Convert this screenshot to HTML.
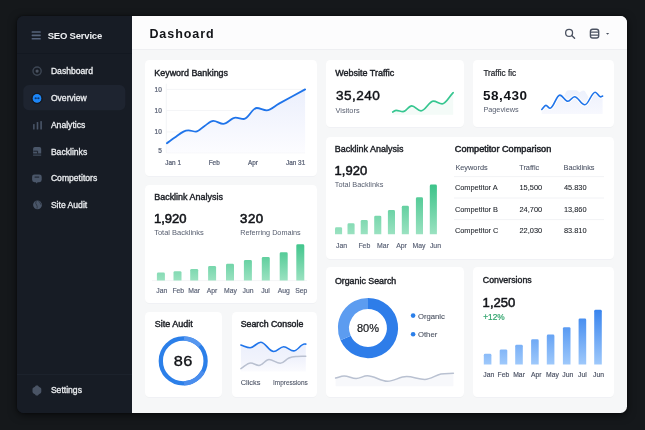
<!DOCTYPE html>
<html><head><meta charset="utf-8"><title>SEO Service Dashboard</title>
<style>
html,body{margin:0;padding:0;width:645px;height:430px;overflow:hidden;background:#15181b;}
.win{position:absolute;left:16.8px;top:16.4px;width:610.2px;height:396.8px;border-radius:6.5px;overflow:hidden;background:#171c25;box-shadow:0 2px 8px rgba(0,0,0,0.6),0 0 2px rgba(0,0,0,0.5);}
.main{position:absolute;left:115.2px;top:0;right:0;bottom:0;background:#f6f7f8;}
.side{position:absolute;left:0;top:0;width:115.2px;height:100%;background:#171c25;}
.sdiv{position:absolute;left:0;width:115px;height:1px;background:#131821;}
.head{position:absolute;left:115.2px;top:0;width:495px;height:32.4px;background:#fcfcfd;border-bottom:1px solid #eeeff2;}
svg{position:absolute;left:0;top:0;font-family:"Liberation Sans", Arial, sans-serif;will-change:transform;}
</style></head><body>
<div class="win"><div class="side"><div class="sdiv" style="top:36.4px"></div><div class="sdiv" style="top:357.9px;background:#1c222c"></div></div><div class="main"></div><div class="head"></div></div>
<svg width="645" height="430" viewBox="0 0 645 430">
<defs>
<filter id="sh" x="-10%" y="-10%" width="120%" height="120%"><feDropShadow dx="0" dy="0.5" stdDeviation="0.6" flood-color="#1f2a44" flood-opacity="0.045"/></filter>
<linearGradient id="gk" gradientUnits="userSpaceOnUse" x1="0" y1="89" x2="0" y2="153"><stop offset="0" stop-color="#ebeffc"/><stop offset="1" stop-color="#fcfcff"/></linearGradient>
<linearGradient id="gs" x1="0" y1="0" x2="0" y2="1"><stop offset="0" stop-color="#ebeffc"/><stop offset="0.6" stop-color="#f1f3fc"/><stop offset="1" stop-color="#fbfbfe"/></linearGradient>
<linearGradient id="gg1" gradientUnits="userSpaceOnUse" x1="0" y1="184" x2="0" y2="234.5"><stop offset="0" stop-color="#3cc389"/><stop offset="1" stop-color="#9be2c1"/></linearGradient>
<linearGradient id="gg2" gradientUnits="userSpaceOnUse" x1="0" y1="244" x2="0" y2="280.8"><stop offset="0" stop-color="#41c58c"/><stop offset="1" stop-color="#9be2c1"/></linearGradient>
<linearGradient id="gt" gradientUnits="userSpaceOnUse" x1="0" y1="90" x2="0" y2="114"><stop offset="0" stop-color="#edf1fc"/><stop offset="1" stop-color="#f7f8fe"/></linearGradient>
<linearGradient id="gb1" gradientUnits="userSpaceOnUse" x1="0" y1="309.5" x2="0" y2="364.8"><stop offset="0" stop-color="#3884ee"/><stop offset="1" stop-color="#9fc9fb"/></linearGradient>
</defs>
<rect x="31.6" y="31.2" width="9.2" height="1.6" rx="0.6" fill="#56637a"/>
<rect x="31.6" y="34.6" width="9.2" height="1.6" rx="0.6" fill="#56637a"/>
<rect x="31.6" y="38.0" width="9.2" height="1.6" rx="0.6" fill="#56637a"/>
<text x="47.7" y="39.4" font-size="9.5" font-weight="700" fill="#eef0f3" letter-spacing="-0.2">SEO Service</text>
<rect x="23.3" y="85.1" width="102" height="25.1" rx="5.5" fill="#1e2430"/>
<text x="50.9" y="74.0" font-size="8.6" fill="#eceef1" stroke="#eceef1" stroke-width="0.3">Dashboard</text>
<text x="50.9" y="101.3" font-size="8.6" fill="#eceef1" stroke="#eceef1" stroke-width="0.3">Overview</text>
<text x="50.9" y="127.89999999999999" font-size="8.6" fill="#eceef1" stroke="#eceef1" stroke-width="0.3">Analytics</text>
<text x="50.9" y="154.5" font-size="8.6" fill="#eceef1" stroke="#eceef1" stroke-width="0.3">Backlinks</text>
<text x="50.9" y="181.29999999999998" font-size="8.6" fill="#eceef1" stroke="#eceef1" stroke-width="0.3">Competitors</text>
<text x="50.9" y="208.1" font-size="8.6" fill="#eceef1" stroke="#eceef1" stroke-width="0.3">Site Audit</text>
<text x="50.9" y="392.7" font-size="8.6" fill="#eceef1" stroke="#eceef1" stroke-width="0.3">Settings</text>
<circle cx="37.1" cy="71.1" r="4.1" fill="none" stroke="#3d4654" stroke-width="1.4"/>
<circle cx="37.1" cy="71.1" r="1.6" fill="#4d5563"/>
<circle cx="37.0" cy="98.4" r="4.4" fill="#1c86f8"/>
<circle cx="37.0" cy="98.4" r="5.2" fill="none" stroke="#10151d" stroke-width="0.9"/>
<ellipse cx="35.7" cy="98.3" rx="1.15" ry="0.95" fill="#0d3873"/>
<ellipse cx="38.4" cy="98.3" rx="1.15" ry="0.95" fill="#0d3873"/>
<rect x="33.1" y="124.0" width="1.5" height="5.5" rx="0.6" fill="#4a5669"/>
<rect x="36.7" y="121.9" width="1.6" height="7.6" rx="0.6" fill="#4a5669"/>
<rect x="40.3" y="121.1" width="1.6" height="8.4" rx="0.6" fill="#4a5669"/>
<path d="M33.1,153.4 V148.8 Q33.1,147.1 34.8,147.1 H39.5 Q41.2,147.1 41.2,148.8 V153.4 Z" fill="#4a5669"/>
<path d="M33.4,151.2 H37.6 V153.6" fill="none" stroke="#171c25" stroke-width="0.9"/>
<rect x="33.1" y="154.6" width="8.1" height="1.0" rx="0" fill="#4a5669"/>
<path d="M34.4,174.4 H39.4 Q41.7,174.4 41.7,176.8 V179.8 Q41.7,182.2 39.4,182.2 H37.6 L36.7,183.6 L35.8,182.2 H34.4 Q32.1,182.2 32.1,179.8 V176.8 Q32.1,174.4 34.4,174.4 Z" fill="#4a5669"/>
<rect x="34.6" y="176.6" width="4.6" height="1.0" rx="0" fill="#1a202b"/>
<circle cx="37.5" cy="204.8" r="4.4" fill="#4a5669"/>
<path d="M36.2,201.0 Q35.0,203.5 36.6,205.0 Q37.6,206.0 37.0,208.6 M38.6,201.0 Q40.6,203.0 41.0,204.8" fill="none" stroke="#2b3340" stroke-width="0.9"/>
<path d="M35.9,385.6 H37.9 L38.9,386.7 L40.6,387.8 Q41.3,388.3 41.3,389.2 V391.8 Q41.3,392.7 40.6,393.2 L38.9,394.2 L37.9,395.5 H35.9 L34.9,394.2 L33.2,393.2 Q32.5,392.7 32.5,391.8 V389.2 Q32.5,388.3 33.2,387.8 L34.9,386.7 Z" fill="#4a5465"/>
<text x="149.4" y="37.9" font-size="12.5" font-weight="700" fill="#121418" letter-spacing="0.95">Dashoard</text>
<circle cx="569.1" cy="32.9" r="3.45" fill="none" stroke="#4b5261" stroke-width="1.3"/>
<path d="M571.7,35.5 L574.6,38.2" stroke="#4b5261" stroke-width="1.4" stroke-linecap="round"/>
<rect x="590.4" y="29.2" width="8.3" height="8.8" rx="2.3" fill="none" stroke="#4b5261" stroke-width="1.35"/>
<path d="M590.6,32.2 H598.5 M590.6,35.1 H598.5" stroke="#4b5261" stroke-width="1.2"/>
<path d="M606.0,32.9 H609.2 L607.6,34.7 Z" fill="#4b5261"/>
<rect x="145" y="60" width="172" height="116" rx="4.5" fill="#ffffff" filter="url(#sh)"/>
<rect x="326" y="60" width="138" height="67" rx="4.5" fill="#ffffff" filter="url(#sh)"/>
<rect x="473" y="60" width="141" height="67" rx="4.5" fill="#ffffff" filter="url(#sh)"/>
<rect x="145" y="185" width="172" height="118" rx="4.5" fill="#ffffff" filter="url(#sh)"/>
<rect x="326" y="137" width="288" height="122" rx="4.5" fill="#ffffff" filter="url(#sh)"/>
<rect x="145" y="312" width="77" height="85" rx="4.5" fill="#ffffff" filter="url(#sh)"/>
<rect x="232" y="312" width="85" height="85" rx="4.5" fill="#ffffff" filter="url(#sh)"/>
<rect x="326" y="267" width="138" height="130" rx="4.5" fill="#ffffff" filter="url(#sh)"/>
<rect x="473" y="267" width="141" height="130" rx="4.5" fill="#ffffff" filter="url(#sh)"/>
<text transform="translate(154.3,75.6) scale(1.088,1)" x="0" y="0" font-size="8.2" fill="#1b1e24" stroke="#1b1e24" stroke-width="0.38">Keyword Bankings</text>
<line x1="166.5" y1="89.4" x2="305" y2="89.4" stroke="#f1f2f5" stroke-width="0.8"/>
<line x1="166.5" y1="110.5" x2="305" y2="110.5" stroke="#f1f2f5" stroke-width="0.8"/>
<line x1="166.5" y1="131.9" x2="305" y2="131.9" stroke="#f1f2f5" stroke-width="0.8"/>
<line x1="166.5" y1="152.7" x2="305" y2="152.7" stroke="#eceef2" stroke-width="0.9"/>
<line x1="166.3" y1="83.7" x2="166.3" y2="152.7" stroke="#f0f1f4" stroke-width="0.8"/>
<text x="161.8" y="91.7" font-size="6.5" fill="#596175" text-anchor="end" stroke="#596175" stroke-width="0.22">10</text>
<text x="161.8" y="112.8" font-size="6.5" fill="#596175" text-anchor="end" stroke="#596175" stroke-width="0.22">10</text>
<text x="161.8" y="134.2" font-size="6.5" fill="#596175" text-anchor="end" stroke="#596175" stroke-width="0.22">10</text>
<text x="161.8" y="153.0" font-size="6.5" fill="#596175" text-anchor="end" stroke="#596175" stroke-width="0.22">5</text>
<text x="165.3" y="164.6" font-size="6.4" fill="#596175" stroke="#596175" stroke-width="0.22">Jan 1</text>
<text x="208.7" y="164.6" font-size="6.4" fill="#596175" stroke="#596175" stroke-width="0.22">Feb</text>
<text x="248.0" y="164.6" font-size="6.4" fill="#596175" stroke="#596175" stroke-width="0.22">Apr</text>
<text x="286.0" y="164.6" font-size="6.4" fill="#596175" stroke="#596175" stroke-width="0.22">Jan 31</text>
<path d="M166.90,143.30 C169.74,141.25 171.96,139.60 174.80,137.60 C177.93,135.39 180.37,133.25 183.50,131.60 C185.30,130.65 186.70,130.40 188.50,130.40 C191.16,130.40 193.24,131.60 195.90,131.60 C199.03,131.60 201.47,127.83 204.60,125.90 C207.73,123.97 210.17,120.90 213.30,120.90 C216.86,120.90 219.64,123.90 223.20,123.90 C227.66,123.90 231.14,117.70 235.60,117.70 C238.55,117.70 240.85,119.00 243.80,119.00 C248.44,119.00 252.06,108.00 256.70,108.00 C260.26,108.00 263.04,110.30 266.60,110.30 C271.06,110.30 274.54,106.02 279.00,103.60 C288.40,98.50 295.70,94.51 305.10,89.40 L305.1,152.7 L166.9,152.7 Z" fill="url(#gk)"/>
<path d="M166.90,143.30 C169.74,141.25 171.96,139.60 174.80,137.60 C177.93,135.39 180.37,133.25 183.50,131.60 C185.30,130.65 186.70,130.40 188.50,130.40 C191.16,130.40 193.24,131.60 195.90,131.60 C199.03,131.60 201.47,127.83 204.60,125.90 C207.73,123.97 210.17,120.90 213.30,120.90 C216.86,120.90 219.64,123.90 223.20,123.90 C227.66,123.90 231.14,117.70 235.60,117.70 C238.55,117.70 240.85,119.00 243.80,119.00 C248.44,119.00 252.06,108.00 256.70,108.00 C260.26,108.00 263.04,110.30 266.60,110.30 C271.06,110.30 274.54,106.02 279.00,103.60 C288.40,98.50 295.70,94.51 305.10,89.40" fill="none" stroke="#1f74ea" stroke-width="1.8" stroke-linecap="round"/>
<text transform="translate(335.2,75.6) scale(1.0975,1)" x="0" y="0" font-size="8.2" fill="#1b1e24" stroke="#1b1e24" stroke-width="0.38">Website Traffic</text>
<text x="335.9" y="99.9" font-size="13.6" fill="#111318" letter-spacing="0.45" stroke="#111318" stroke-width="0.45">35,240</text>
<text x="335.5" y="112.7" font-size="7.4" fill="#575e6f">Visitors</text>
<path d="M392.70,112.00 C393.96,111.42 394.94,110.40 396.20,110.40 C398.65,110.40 400.55,111.70 403.00,111.70 C406.13,111.70 408.57,105.80 411.70,105.80 C415.05,105.80 417.65,110.80 421.00,110.80 C425.46,110.80 428.94,101.10 433.40,101.10 C436.53,101.10 438.97,103.90 442.10,103.90 C446.10,103.90 449.20,96.30 453.20,92.70 L453.2,114.8 L392.7,114.8 Z" fill="#f4fbf8"/>
<path d="M392.70,112.00 C393.96,111.42 394.94,110.40 396.20,110.40 C398.65,110.40 400.55,111.70 403.00,111.70 C406.13,111.70 408.57,105.80 411.70,105.80 C415.05,105.80 417.65,110.80 421.00,110.80 C425.46,110.80 428.94,101.10 433.40,101.10 C436.53,101.10 438.97,103.90 442.10,103.90 C446.10,103.90 449.20,96.30 453.20,92.70" fill="none" stroke="#36c690" stroke-width="1.7" stroke-linecap="round"/>
<text x="483.4" y="75.6" font-size="8.2" fill="#1b1e24" stroke="#1b1e24" stroke-width="0.2">Traffic fic</text>
<text x="483.0" y="99.8" font-size="13.5" font-weight="700" fill="#111318" letter-spacing="0.55">58,430</text>
<text x="483.4" y="112.3" font-size="7.3" fill="#575e6f">Pageviews</text>
<path d="M563.5,114 L563.5,97 L566.3,91.6 Q567.3,90.3 569,90.3 L576.3,90.3 Q577.8,90.4 579.4,92.6 L581.8,91.0 Q583.3,90.1 584.8,91.1 L586.6,94 L590.5,100 L590.5,114 Z" fill="url(#gt)"/>
<path d="M541.80,109.50 C543.28,108.02 544.42,105.40 545.90,105.40 C547.41,105.40 548.59,108.30 550.10,108.30 C553.59,108.30 556.31,95.10 559.80,95.10 C562.72,95.10 564.98,101.30 567.90,101.30 C570.28,101.30 572.12,96.70 574.50,96.70 C578.21,96.70 581.09,104.80 584.80,104.80 C588.54,104.80 591.46,92.20 595.20,92.20 C597.14,92.20 598.66,96.90 600.60,96.90 C601.32,96.90 601.88,96.32 602.60,96.00 L602.6,114 L541.8,114 Z" fill="url(#gt)"/>
<path d="M541.80,109.50 C543.28,108.02 544.42,105.40 545.90,105.40 C547.41,105.40 548.59,108.30 550.10,108.30 C553.59,108.30 556.31,95.10 559.80,95.10 C562.72,95.10 564.98,101.30 567.90,101.30 C570.28,101.30 572.12,96.70 574.50,96.70 C578.21,96.70 581.09,104.80 584.80,104.80 C588.54,104.80 591.46,92.20 595.20,92.20 C597.14,92.20 598.66,96.90 600.60,96.90 C601.32,96.90 601.88,96.32 602.60,96.00" fill="none" stroke="#ffffff" stroke-width="3.6" stroke-linecap="round"/>
<path d="M541.80,109.50 C543.28,108.02 544.42,105.40 545.90,105.40 C547.41,105.40 548.59,108.30 550.10,108.30 C553.59,108.30 556.31,95.10 559.80,95.10 C562.72,95.10 564.98,101.30 567.90,101.30 C570.28,101.30 572.12,96.70 574.50,96.70 C578.21,96.70 581.09,104.80 584.80,104.80 C588.54,104.80 591.46,92.20 595.20,92.20 C597.14,92.20 598.66,96.90 600.60,96.90 C601.32,96.90 601.88,96.32 602.60,96.00" fill="none" stroke="#1f74ea" stroke-width="1.6" stroke-linecap="round"/>
<text transform="translate(334.7,152.3) scale(1.095,1)" x="0" y="0" font-size="8.2" fill="#1b1e24" stroke="#1b1e24" stroke-width="0.38">Backlink Analysis</text>
<text x="334.6" y="174.6" font-size="13.0" fill="#111318" stroke="#111318" stroke-width="0.5">1,920</text>
<text x="334.8" y="187.2" font-size="7.35" fill="#575e6f">Total Backlinks</text>
<path d="M335,234.3 V228.6 Q335,227.2 336.4,227.2 H340.70000000000005 Q342.1,227.2 342.1,228.6 V234.3 Z" fill="url(#gg1)"/>
<path d="M347.5,234.3 V224.70000000000002 Q347.5,223.3 348.9,223.3 H353.20000000000005 Q354.6,223.3 354.6,224.70000000000002 V234.3 Z" fill="url(#gg1)"/>
<path d="M360.7,234.3 V221.5 Q360.7,220.1 362.09999999999997,220.1 H366.40000000000003 Q367.8,220.1 367.8,221.5 V234.3 Z" fill="url(#gg1)"/>
<path d="M374.2,234.3 V217.1 Q374.2,215.7 375.59999999999997,215.7 H379.90000000000003 Q381.3,215.7 381.3,217.1 V234.3 Z" fill="url(#gg1)"/>
<path d="M387.9,234.3 V211.4 Q387.9,210 389.29999999999995,210 H393.6 Q395.0,210 395.0,211.4 V234.3 Z" fill="url(#gg1)"/>
<path d="M401.8,234.3 V207.20000000000002 Q401.8,205.8 403.2,205.8 H407.50000000000006 Q408.90000000000003,205.8 408.90000000000003,207.20000000000002 V234.3 Z" fill="url(#gg1)"/>
<path d="M415.9,234.3 V198.70000000000002 Q415.9,197.3 417.29999999999995,197.3 H421.6 Q423.0,197.3 423.0,198.70000000000002 V234.3 Z" fill="url(#gg1)"/>
<path d="M429.8,234.3 V185.9 Q429.8,184.5 431.2,184.5 H435.50000000000006 Q436.90000000000003,184.5 436.90000000000003,185.9 V234.3 Z" fill="url(#gg1)"/>
<text x="336.0" y="247.7" font-size="6.9" fill="#596175" stroke="#596175" stroke-width="0.15">Jan</text>
<text x="358.4" y="247.7" font-size="6.9" fill="#596175" stroke="#596175" stroke-width="0.15">Feb</text>
<text x="377.1" y="247.7" font-size="6.9" fill="#596175" stroke="#596175" stroke-width="0.15">Mar</text>
<text x="396.2" y="247.7" font-size="6.9" fill="#596175" stroke="#596175" stroke-width="0.15">Apr</text>
<text x="412.4" y="247.7" font-size="6.9" fill="#596175" stroke="#596175" stroke-width="0.15">May</text>
<text x="429.9" y="247.7" font-size="6.9" fill="#596175" stroke="#596175" stroke-width="0.15">Jun</text>
<text transform="translate(454.8,152.3) scale(1.103,1)" x="0" y="0" font-size="8.3" fill="#1b1e24" stroke="#1b1e24" stroke-width="0.45">Competitor Comparison</text>
<text x="455.4" y="170.0" font-size="7.35" fill="#4f5667" stroke="#4f5667" stroke-width="0.08">Keywords</text>
<text x="519.2" y="170.0" font-size="7.35" fill="#4f5667" stroke="#4f5667" stroke-width="0.08">Traffic</text>
<text x="563.5" y="170.0" font-size="7.35" fill="#4f5667" stroke="#4f5667" stroke-width="0.08">Backlinks</text>
<line x1="454" y1="176.6" x2="604" y2="176.6" stroke="#edeff2" stroke-width="0.8"/>
<line x1="454" y1="198.0" x2="604" y2="198.0" stroke="#edeff2" stroke-width="0.8"/>
<line x1="454" y1="219.6" x2="604" y2="219.6" stroke="#edeff2" stroke-width="0.8"/>
<text x="454.9" y="189.8" font-size="7.4" fill="#1c2027" stroke="#1c2027" stroke-width="0.08">Competitor A</text>
<text x="519.5" y="189.8" font-size="7.4" fill="#1c2027" stroke="#1c2027" stroke-width="0.08">15,500</text>
<text x="563.9" y="189.8" font-size="7.4" fill="#1c2027" stroke="#1c2027" stroke-width="0.08">45.830</text>
<text x="454.9" y="211.6" font-size="7.4" fill="#1c2027" stroke="#1c2027" stroke-width="0.08">Competitor B</text>
<text x="519.5" y="211.6" font-size="7.4" fill="#1c2027" stroke="#1c2027" stroke-width="0.08">24,700</text>
<text x="563.9" y="211.6" font-size="7.4" fill="#1c2027" stroke="#1c2027" stroke-width="0.08">13,860</text>
<text x="454.9" y="233.0" font-size="7.4" fill="#1c2027" stroke="#1c2027" stroke-width="0.08">Competitor C</text>
<text x="519.5" y="233.0" font-size="7.4" fill="#1c2027" stroke="#1c2027" stroke-width="0.08">22,030</text>
<text x="563.9" y="233.0" font-size="7.4" fill="#1c2027" stroke="#1c2027" stroke-width="0.08">83.810</text>
<text transform="translate(154.2,200.4) scale(1.095,1)" x="0" y="0" font-size="8.2" fill="#1b1e24" stroke="#1b1e24" stroke-width="0.38">Backlink Analysis</text>
<text x="154.0" y="222.7" font-size="13.0" fill="#111318" stroke="#111318" stroke-width="0.55">1,920</text>
<text x="240.1" y="222.7" font-size="13.2" fill="#111318" letter-spacing="0.5" stroke="#111318" stroke-width="0.6">320</text>
<text x="154.2" y="235.1" font-size="7.5" fill="#575e6f">Total Backlinks</text>
<text x="240.3" y="235.1" font-size="7.25" fill="#575e6f">Referring Domains</text>
<line x1="152" y1="280.6" x2="307" y2="280.6" stroke="#f0f1f4" stroke-width="0.8"/>
<path d="M156.9,280.6 V273.9 Q156.9,272.5 158.3,272.5 H163.5 Q164.9,272.5 164.9,273.9 V280.6 Z" fill="url(#gg2)"/>
<path d="M173.5,280.6 V272.59999999999997 Q173.5,271.2 174.9,271.2 H180.1 Q181.5,271.2 181.5,272.59999999999997 V280.6 Z" fill="url(#gg2)"/>
<path d="M190.2,280.6 V270.29999999999995 Q190.2,268.9 191.6,268.9 H196.79999999999998 Q198.2,268.9 198.2,270.29999999999995 V280.6 Z" fill="url(#gg2)"/>
<path d="M208.1,280.6 V267.5 Q208.1,266.1 209.5,266.1 H214.7 Q216.1,266.1 216.1,267.5 V280.6 Z" fill="url(#gg2)"/>
<path d="M226,280.6 V265.2 Q226,263.8 227.4,263.8 H232.6 Q234.0,263.8 234.0,265.2 V280.6 Z" fill="url(#gg2)"/>
<path d="M243.9,280.6 V261.4 Q243.9,260 245.3,260 H250.5 Q251.9,260 251.9,261.4 V280.6 Z" fill="url(#gg2)"/>
<path d="M261.8,280.6 V258.5 Q261.8,257.1 263.2,257.1 H268.40000000000003 Q269.8,257.1 269.8,258.5 V280.6 Z" fill="url(#gg2)"/>
<path d="M279.7,280.6 V253.70000000000002 Q279.7,252.3 281.09999999999997,252.3 H286.3 Q287.7,252.3 287.7,253.70000000000002 V280.6 Z" fill="url(#gg2)"/>
<path d="M296.3,280.6 V245.70000000000002 Q296.3,244.3 297.7,244.3 H302.90000000000003 Q304.3,244.3 304.3,245.70000000000002 V280.6 Z" fill="url(#gg2)"/>
<text x="156.3" y="293.0" font-size="6.8" fill="#596175" stroke="#596175" stroke-width="0.15">Jan</text>
<text x="172.4" y="293.0" font-size="6.8" fill="#596175" stroke="#596175" stroke-width="0.15">Feb</text>
<text x="188.3" y="293.0" font-size="6.8" fill="#596175" stroke="#596175" stroke-width="0.15">Mar</text>
<text x="206.7" y="293.0" font-size="6.8" fill="#596175" stroke="#596175" stroke-width="0.15">Apr</text>
<text x="224.1" y="293.0" font-size="6.8" fill="#596175" stroke="#596175" stroke-width="0.15">May</text>
<text x="242.5" y="293.0" font-size="6.8" fill="#596175" stroke="#596175" stroke-width="0.15">Jun</text>
<text x="261.2" y="293.0" font-size="6.8" fill="#596175" stroke="#596175" stroke-width="0.15">Jul</text>
<text x="277.8" y="293.0" font-size="6.8" fill="#596175" stroke="#596175" stroke-width="0.15">Aug</text>
<text x="295.2" y="293.0" font-size="6.8" fill="#596175" stroke="#596175" stroke-width="0.15">Sep</text>
<text transform="translate(154.7,327.4) scale(1.099,1)" x="0" y="0" font-size="8.2" fill="#1b1e24" stroke="#1b1e24" stroke-width="0.38">Site Audit</text>
<circle cx="183.2" cy="360.9" r="22.4" fill="none" stroke="#2b7fe9" stroke-width="4.3"/>
<path d="M183.98,338.51 A22.4,22.4 0 0 1 199.85,345.91" fill="none" stroke="#5797ef" stroke-width="4.3"/>
<path d="M202.98,371.42 A22.4,22.4 0 0 1 183.98,383.29" fill="none" stroke="#4a8ded" stroke-width="4.3"/>
<text transform="translate(183.2,365.9) scale(1.17,1)" x="0" y="0" font-size="14.0" fill="#0f1115" letter-spacing="0.2" text-anchor="middle" stroke="#0f1115" stroke-width="0.35">86</text>
<text transform="translate(240.7,327.2) scale(1.073,1)" x="0" y="0" font-size="8.2" fill="#1b1e24" stroke="#1b1e24" stroke-width="0.42">Search Console</text>
<path d="M240.90,345.00 C244.21,345.97 246.79,347.70 250.10,347.70 C253.92,347.70 256.88,342.30 260.70,342.30 C265.38,342.30 269.02,351.50 273.70,351.50 C277.30,351.50 280.10,346.80 283.70,346.80 C287.30,346.80 290.10,350.90 293.70,350.90 C297.62,350.90 300.68,344.00 304.60,344.00 C305.03,344.00 305.37,344.06 305.80,344.10 L305.8,371.5 L240.9,371.5 Z" fill="url(#gs)"/>
<path d="M240.90,368.60 C244.43,366.58 247.17,363.00 250.70,363.00 C253.69,363.00 256.01,365.40 259.00,365.40 C262.60,365.40 265.40,359.50 269.00,359.50 C273.03,359.50 276.17,363.30 280.20,363.30 C283.37,363.30 285.83,359.29 289.00,358.00 C291.95,356.80 294.25,356.72 297.20,356.40 C300.30,356.07 302.70,356.27 305.80,356.20" fill="none" stroke="#b9c0d0" stroke-width="1.5" stroke-linecap="round"/>
<path d="M240.90,345.00 C244.21,345.97 246.79,347.70 250.10,347.70 C253.92,347.70 256.88,342.30 260.70,342.30 C265.38,342.30 269.02,351.50 273.70,351.50 C277.30,351.50 280.10,346.80 283.70,346.80 C287.30,346.80 290.10,350.90 293.70,350.90 C297.62,350.90 300.68,344.00 304.60,344.00 C305.03,344.00 305.37,344.06 305.80,344.10" fill="none" stroke="#1f74ea" stroke-width="1.6" stroke-linecap="round"/>
<text transform="translate(240.7,384.8) scale(0.95,1)" x="0" y="0" font-size="7.8" fill="#4f5668" stroke="#4f5668" stroke-width="0.12">Clicks</text>
<text transform="translate(273.0,384.8) scale(0.98,1)" x="0" y="0" font-size="6.6" fill="#4f5668" stroke="#4f5668" stroke-width="0.1">Impressions</text>
<text transform="translate(334.9,283.6) scale(1.078,1)" x="0" y="0" font-size="8.2" fill="#1b1e24" stroke="#1b1e24" stroke-width="0.38">Organic Search</text>
<path d="M368.00,303.50 A24.5,24.5 0 1 1 345.62,337.97" fill="none" stroke="#2e7de9" stroke-width="11.2"/>
<path d="M345.62,337.97 A24.5,24.5 0 0 1 368.00,303.50" fill="none" stroke="#5c9cf0" stroke-width="11.2"/>
<text x="368.0" y="331.8" font-size="11.0" fill="#15171b" text-anchor="middle" stroke="#15171b" stroke-width="0.2">80%</text>
<circle cx="413.1" cy="315.6" r="2.3" fill="#2b7fe9"/>
<circle cx="413.1" cy="334.3" r="2.3" fill="#2b7fe9"/>
<text x="418.0" y="318.5" font-size="7.7" fill="#4a5161" stroke="#4a5161" stroke-width="0.1">Organic</text>
<text x="418.0" y="337.3" font-size="7.7" fill="#4a5161" stroke="#4a5161" stroke-width="0.1">Other</text>
<path d="M335.60,378.10 C338.66,377.38 341.04,376.10 344.10,376.10 C348.46,376.10 351.84,378.50 356.20,378.50 C360.20,378.50 363.30,375.70 367.30,375.70 C374.57,375.70 380.23,381.20 387.50,381.20 C394.38,381.20 399.72,376.50 406.60,376.50 C413.15,376.50 418.25,379.40 424.80,379.40 C430.60,379.40 435.10,375.34 440.90,374.10 C445.40,373.14 448.90,373.59 453.40,373.30 L453.4,386.2 L335.6,386.2 Z" fill="#f7f8fb"/>
<path d="M335.60,378.10 C338.66,377.38 341.04,376.10 344.10,376.10 C348.46,376.10 351.84,378.50 356.20,378.50 C360.20,378.50 363.30,375.70 367.30,375.70 C374.57,375.70 380.23,381.20 387.50,381.20 C394.38,381.20 399.72,376.50 406.60,376.50 C413.15,376.50 418.25,379.40 424.80,379.40 C430.60,379.40 435.10,375.34 440.90,374.10 C445.40,373.14 448.90,373.59 453.40,373.30" fill="none" stroke="#b9c1d1" stroke-width="1.5" stroke-linecap="round"/>
<text transform="translate(482.8,283.4) scale(1.06,1)" x="0" y="0" font-size="8.3" fill="#1b1e24" stroke="#1b1e24" stroke-width="0.38">Conversions</text>
<text x="482.6" y="306.8" font-size="13.1" fill="#111318" stroke="#111318" stroke-width="0.5">1,250</text>
<text x="483.2" y="319.7" font-size="8.3" fill="#2ea36b" stroke="#2ea36b" stroke-width="0.2">+12%</text>
<path d="M483.8,364.6 V355.2 Q483.8,353.8 485.2,353.8 H490.00000000000006 Q491.40000000000003,353.8 491.40000000000003,355.2 V364.6 Z" fill="url(#gb1)"/>
<path d="M499.7,364.6 V350.79999999999995 Q499.7,349.4 501.09999999999997,349.4 H505.90000000000003 Q507.3,349.4 507.3,350.79999999999995 V364.6 Z" fill="url(#gb1)"/>
<path d="M515.2,364.6 V346.2 Q515.2,344.8 516.6,344.8 H521.4000000000001 Q522.8000000000001,344.8 522.8000000000001,346.2 V364.6 Z" fill="url(#gb1)"/>
<path d="M531.1,364.6 V340.7 Q531.1,339.3 532.5,339.3 H537.3000000000001 Q538.7,339.3 538.7,340.7 V364.6 Z" fill="url(#gb1)"/>
<path d="M546.8,364.6 V335.9 Q546.8,334.5 548.1999999999999,334.5 H553.0 Q554.4,334.5 554.4,335.9 V364.6 Z" fill="url(#gb1)"/>
<path d="M562.9,364.6 V328.59999999999997 Q562.9,327.2 564.3,327.2 H569.1 Q570.5,327.2 570.5,328.59999999999997 V364.6 Z" fill="url(#gb1)"/>
<path d="M578.6,364.6 V319.79999999999995 Q578.6,318.4 580.0,318.4 H584.8000000000001 Q586.2,318.4 586.2,319.79999999999995 V364.6 Z" fill="url(#gb1)"/>
<path d="M594.2,364.6 V311.2 Q594.2,309.8 595.6,309.8 H600.4000000000001 Q601.8000000000001,309.8 601.8000000000001,311.2 V364.6 Z" fill="url(#gb1)"/>
<text x="483.3" y="377.0" font-size="6.8" fill="#4a5163" stroke="#4a5163" stroke-width="0.15">Jan</text>
<text x="497.5" y="377.0" font-size="6.8" fill="#4a5163" stroke="#4a5163" stroke-width="0.15">Feb</text>
<text x="513.2" y="377.0" font-size="6.8" fill="#4a5163" stroke="#4a5163" stroke-width="0.15">Mar</text>
<text x="531.0" y="377.0" font-size="6.8" fill="#4a5163" stroke="#4a5163" stroke-width="0.15">Apr</text>
<text x="546.0" y="377.0" font-size="6.8" fill="#4a5163" stroke="#4a5163" stroke-width="0.15">May</text>
<text x="562.3" y="377.0" font-size="6.8" fill="#4a5163" stroke="#4a5163" stroke-width="0.15">Jun</text>
<text x="578.0" y="377.0" font-size="6.8" fill="#4a5163" stroke="#4a5163" stroke-width="0.15">Jul</text>
<text x="593.1" y="377.0" font-size="6.8" fill="#4a5163" stroke="#4a5163" stroke-width="0.15">Jun</text>
</svg>
</body></html>
